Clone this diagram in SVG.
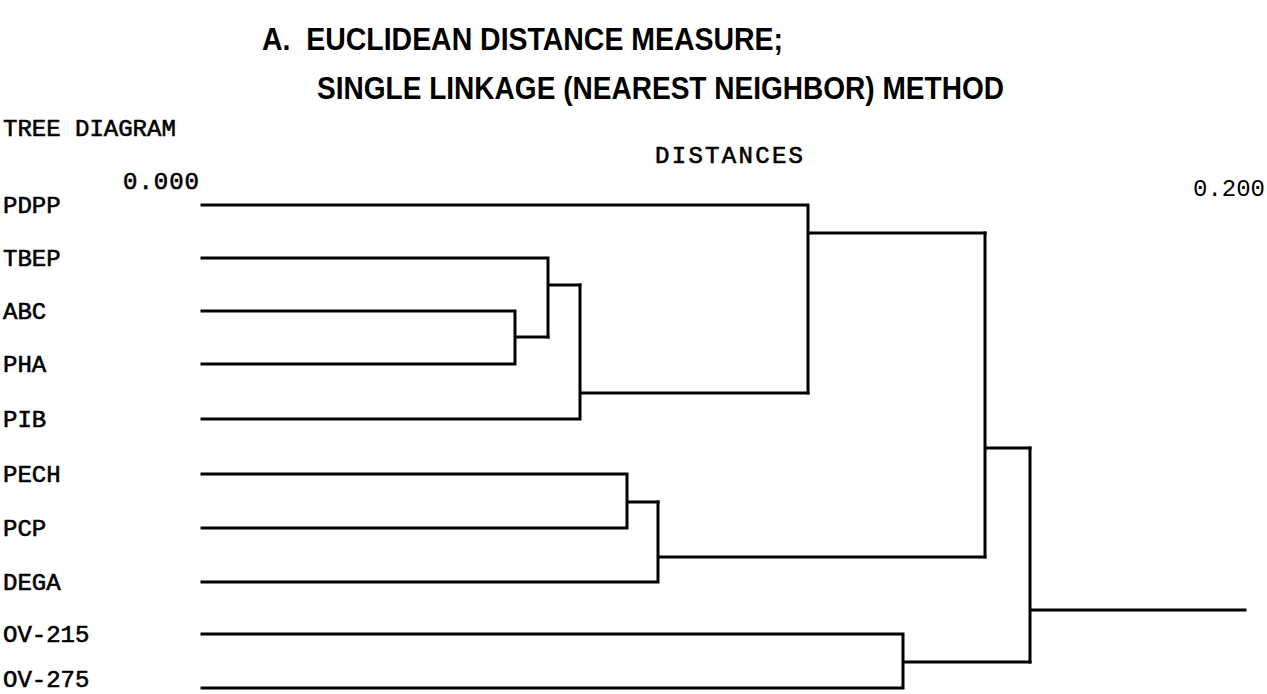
<svg xmlns="http://www.w3.org/2000/svg" width="1267" height="694" viewBox="0 0 1267 694">
<style>
.title{font-family:"Liberation Sans",Arial,sans-serif;font-weight:bold;font-size:31px;fill:#000}
.mono{font-family:"Liberation Mono","Courier New",monospace;font-size:24px;fill:#000;stroke:#000;stroke-width:0.6}
.thin{font-family:"Liberation Mono","Courier New",monospace;font-size:24px;fill:#000}
.ln{fill:none;stroke:#000;stroke-width:3;stroke-linecap:square;stroke-linejoin:miter}
</style>
<rect width="1267" height="694" fill="#fff"/>
<g id="titles">
<text class="title" x="262" y="50" textLength="521" lengthAdjust="spacingAndGlyphs" xml:space="preserve">A.  EUCLIDEAN DISTANCE MEASURE;</text>
<text class="title" x="317" y="99" textLength="687" lengthAdjust="spacingAndGlyphs">SINGLE LINKAGE (NEAREST NEIGHBOR) METHOD</text>
<text class="mono" x="3" y="136">TREE DIAGRAM</text>
<text class="mono" x="655" y="163" textLength="148">DISTANCES</text>
<text class="mono" x="123" y="189" textLength="76">0.000</text>
<text class="thin" x="1193" y="196">0.200</text>
</g>
<g id="leaf-PDPP"><text class="mono" x="3" y="213">PDPP</text></g>
<g id="leaf-TBEP"><text class="mono" x="3" y="266">TBEP</text></g>
<g id="leaf-ABC"><text class="mono" x="3" y="319">ABC</text></g>
<g id="leaf-PHA"><text class="mono" x="3" y="372">PHA</text></g>
<g id="leaf-PIB"><text class="mono" x="3" y="427">PIB</text></g>
<g id="leaf-PECH"><text class="mono" x="3" y="482">PECH</text></g>
<g id="leaf-PCP"><text class="mono" x="3" y="536">PCP</text></g>
<g id="leaf-DEGA"><text class="mono" x="3" y="590">DEGA</text></g>
<g id="leaf-OV215"><text class="mono" x="3" y="642">OV-215</text></g>
<g id="leaf-OV275"><text class="mono" x="3" y="687">OV-275</text></g>
<g id="connectors">
<path class="ln" d="M202 311H515V364H202M515 337H548"/>
<path class="ln" d="M202 258H548V337M548 285H580"/>
<path class="ln" d="M202 419H580V285M580 393H808"/>
<path class="ln" d="M202 205H808V393M808 233H985"/>
<path class="ln" d="M202 474H627V528H202M627 502H658"/>
<path class="ln" d="M202 582H658V502M658 557H985"/>
<path class="ln" d="M985 233V557M985 448H1030"/>
<path class="ln" d="M202 634H903V688H202M903 662H1030"/>
<path class="ln" d="M1030 448V662M1030 610H1245"/>
</g>
</svg>
